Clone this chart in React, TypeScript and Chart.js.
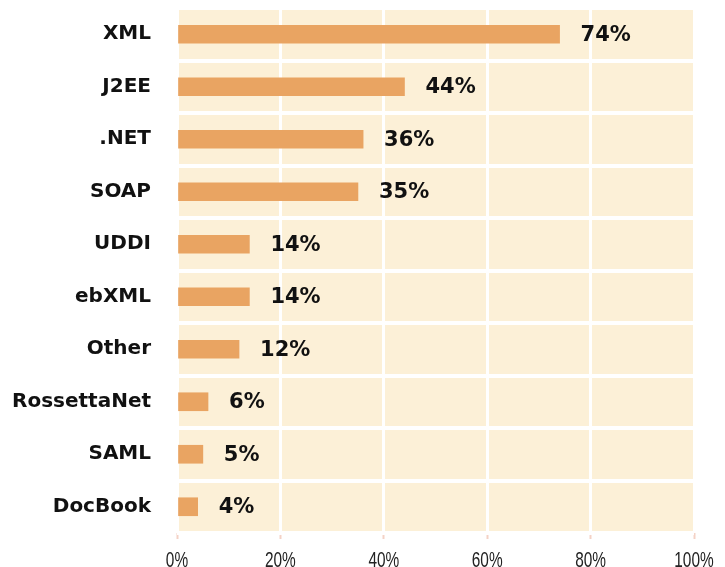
import React, { useEffect, useRef } from "react";
import { Chart, registerables } from "chart.js";

Chart.register(...registerables);

const categories = ["XML", "J2EE", ".NET", "SOAP", "UDDI", "ebXML", "Other", "RossettaNet", "SAML", "DocBook"];
const shares = [74, 44, 36, 35, 14, 14, 12, 6, 5, 4];
const xTickValues = [0, 20, 40, 60, 80, 100];

const CREAM = "#FCF0D7";
const BAR = "#E9A462";

const creamBackground = {
  id: "creamBackground",
  beforeDraw(chart: any) {
    const { ctx, chartArea } = chart;
    ctx.save();
    ctx.fillStyle = CREAM;
    ctx.fillRect(chartArea.left, chartArea.top, chartArea.right - chartArea.left, chartArea.bottom - chartArea.top);
    ctx.restore();
  },
};

const valueLabels = {
  id: "valueLabels",
  afterDatasetsDraw(chart: any) {
    const { ctx } = chart;
    const meta = chart.getDatasetMeta(0);
    const data = chart.data.datasets[0].data as number[];
    ctx.save();
    ctx.font = "bold 21px 'DejaVu Sans'";
    ctx.fillStyle = "#111111";
    ctx.textAlign = "left";
    ctx.textBaseline = "middle";
    meta.data.forEach((bar: any, i: number) => {
      ctx.fillText(data[i] + "%", bar.x + 21, bar.y + 1);
    });
    ctx.restore();
  },
};

// condensed x-axis tick labels, placed at the library's own tick pixels
const condensedXTicks = {
  id: "condensedXTicks",
  afterDraw(chart: any) {
    const { ctx } = chart;
    const scale = chart.scales.x;
    ctx.save();
    ctx.font = "22px 'Liberation Sans', Arial, sans-serif";
    ctx.fillStyle = "#222222";
    ctx.textAlign = "center";
    ctx.textBaseline = "alphabetic";
    scale.ticks.forEach((t: any) => {
      const x = scale.getPixelForValue(t.value);
      ctx.save();
      ctx.translate(x, 567);
      ctx.scale(0.7, 1);
      ctx.fillText(t.value + "%", 0, 0);
      ctx.restore();
    });
    ctx.restore();
  },
};

export default function App() {
  const ref = useRef<HTMLCanvasElement>(null);
  useEffect(() => {
    document.body.style.margin = "0";
    const chart = new Chart(ref.current!, {
      type: "bar",
      data: {
        labels: categories,
        datasets: [
          {
            data: shares,
            backgroundColor: BAR,
            borderWidth: 0,
            barThickness: 18,
          },
        ],
      },
      options: {
        indexAxis: "y",
        animation: false,
        responsive: false,
        layout: { padding: { top: 8, left: 0, right: 31, bottom: 0 } },
        plugins: { legend: { display: false }, tooltip: { enabled: false } },
        scales: {
          x: {
            type: "linear",
            min: 0,
            max: 100,
            afterBuildTicks(scale: any) {
              scale.ticks = xTickValues.map((v) => ({ value: v }));
            },
            afterFit(scale: any) {
              scale.height = 34;
              scale.paddingLeft = 0;
              scale.paddingRight = 0;
            },
            border: { display: false },
            grid: {
              color: "#FFFFFF",
              lineWidth: 3,
              drawTicks: true,
              tickLength: 6,
              tickColor: "#F4D2C6",
              tickWidth: 2,
            },
            ticks: {
              display: false,
              callback: (v: any) => v + "%",
            },
          },
          y: {
            afterFit(scale: any) {
              scale.width = 177;
              scale.paddingTop = 0;
              scale.paddingBottom = 0;
            },
            border: { display: false },
            grid: {
              color: "#FFFFFF",
              lineWidth: 4,
              drawTicks: false,
              offset: true,
            },
            ticks: {
              padding: 26,
              color: "#111111",
              font: { family: "'DejaVu Sans'", size: 20, weight: "bold" },
            },
          },
        },
      },
      plugins: [creamBackground, valueLabels, condensedXTicks],
    });
    return () => chart.destroy();
  }, []);
  return <canvas ref={ref} width={725} height={567} />;
}
